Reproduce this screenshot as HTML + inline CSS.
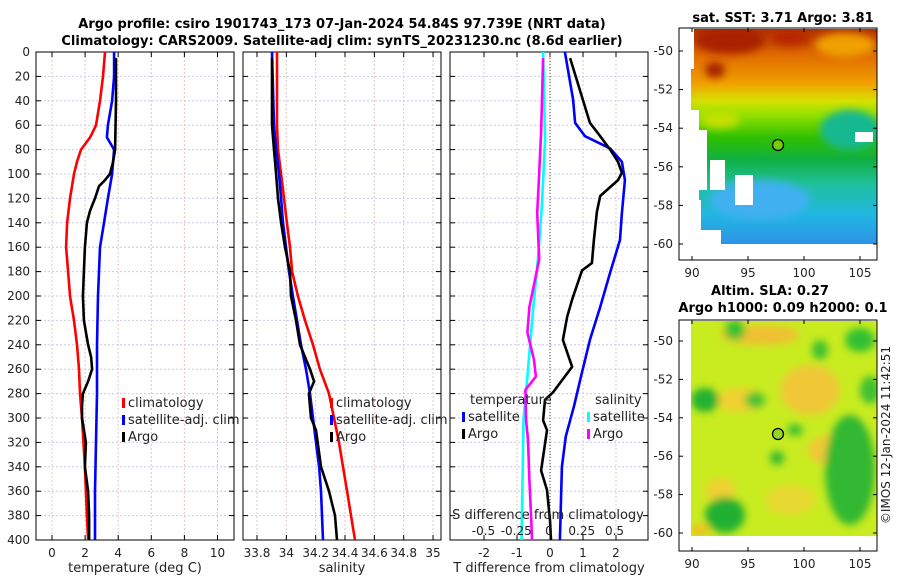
<!DOCTYPE html>
<html><head><meta charset="utf-8"><style>
body{margin:0;background:#fff;}
svg{display:block;font-family:"DejaVu Sans","Liberation Sans",sans-serif;}
</style></head><body>
<svg id="c" width="900" height="580" viewBox="0 0 900 580">
<defs>
<clipPath id="cp1"><rect x="36" y="52" width="198" height="488"/></clipPath>
<clipPath id="cp2"><rect x="243" y="52" width="198" height="488"/></clipPath>
<clipPath id="cp3"><rect x="450" y="52" width="198" height="488"/></clipPath>
<clipPath id="cm1"><rect x="691" y="29" width="186" height="217"/></clipPath>
<clipPath id="cm2"><rect x="691" y="321" width="186" height="215"/></clipPath>
<filter id="bl" x="-50%" y="-50%" width="200%" height="200%"><feGaussianBlur stdDeviation="4"/></filter>
<linearGradient id="sst" x1="0" y1="0" x2="0" y2="1">
<stop offset="0" stop-color="#b03000"/><stop offset="0.12" stop-color="#e06a00"/><stop offset="0.25" stop-color="#f0a000"/>
<stop offset="0.33" stop-color="#d8e000"/><stop offset="0.4" stop-color="#90e000"/><stop offset="0.5" stop-color="#30c000"/>
<stop offset="0.6" stop-color="#10b040"/><stop offset="0.72" stop-color="#20c0a0"/><stop offset="0.85" stop-color="#20b8e0"/><stop offset="1" stop-color="#3090e8"/>
</linearGradient>
</defs>
<text x="342" y="28" font-size="13" font-weight="bold" text-anchor="middle">Argo profile: csiro 1901743_173 07-Jan-2024 54.84S 97.739E (NRT data)</text>
<text x="342" y="45" font-size="13" font-weight="bold" text-anchor="middle">Climatology: CARS2009. Satellite-adj clim: synTS_20231230.nc (8.6d earlier)</text>
<g id="plots"></g>
<!-- map 1 -->
<g>
<text x="783" y="22" font-size="13" font-weight="bold" text-anchor="middle">sat. SST: 3.71 Argo: 3.81</text>
<g clip-path="url(#cm1)">
<rect x="691" y="29" width="186" height="217" fill="url(#sst)"/>
<ellipse cx="730" cy="40" rx="35" ry="14" fill="#a82000" filter="url(#bl)"/>
<ellipse cx="790" cy="38" rx="20" ry="8" fill="#b82800" filter="url(#bl)"/>
<ellipse cx="715" cy="70" rx="10" ry="8" fill="#a82000" filter="url(#bl)"/>
<ellipse cx="845" cy="45" rx="30" ry="12" fill="#f0a000" filter="url(#bl)"/>
<ellipse cx="850" cy="130" rx="30" ry="20" fill="#18b890" filter="url(#bl)"/>
<ellipse cx="760" cy="200" rx="50" ry="20" fill="#40b0f0" filter="url(#bl)"/>
<ellipse cx="720" cy="120" rx="20" ry="8" fill="#c8e000" filter="url(#bl)"/>
<rect x="691" y="110" width="8" height="136" fill="#fff"/>
<rect x="691" y="130" width="16" height="60" fill="#fff"/>
<rect x="710" y="160" width="15" height="30" fill="#fff"/>
<rect x="735" y="175" width="18" height="30" fill="#fff"/>
<rect x="691" y="200" width="10" height="46" fill="#fff"/>
<rect x="691" y="230" width="30" height="16" fill="#fff"/>
<rect x="855" y="132" width="18" height="10" fill="#fff"/>
<rect x="691" y="244" width="186" height="4" fill="#fff"/>
<rect x="691" y="29" width="3" height="40" fill="#fff"/>
</g>
<circle cx="778" cy="145" r="5.5" fill="#70d000" stroke="#000" stroke-width="1.3"/>
<rect x="679" y="28" width="198" height="232" fill="none" stroke="#000"/>
<g id="m1ticks"></g>
</g>
<!-- map 2 -->
<g>
<text x="770" y="295" font-size="13" font-weight="bold" text-anchor="middle">Altim. SLA: 0.27</text>
<text x="783" y="312" font-size="13" font-weight="bold" text-anchor="middle">Argo h1000: 0.09 h2000: 0.1</text>
<g clip-path="url(#cm2)">
<rect x="691" y="321" width="186" height="215" fill="#c8ec20"/>
<g filter="url(#bl)">
<ellipse cx="760" cy="335" rx="40" ry="10" fill="#f0c030"/>
<ellipse cx="810" cy="390" rx="30" ry="25" fill="#f0c838"/>
<ellipse cx="740" cy="400" rx="25" ry="12" fill="#f0d030"/>
<ellipse cx="830" cy="450" rx="22" ry="15" fill="#f0c838"/>
<ellipse cx="720" cy="490" rx="15" ry="12" fill="#f0d030"/>
<ellipse cx="790" cy="500" rx="25" ry="15" fill="#e8d830"/>
<ellipse cx="705" cy="400" rx="14" ry="12" fill="#20b030"/>
<ellipse cx="735" cy="330" rx="10" ry="10" fill="#30c030"/>
<ellipse cx="860" cy="340" rx="15" ry="12" fill="#30c030"/>
<ellipse cx="850" cy="470" rx="25" ry="55" fill="#30b830"/>
<ellipse cx="725" cy="515" rx="20" ry="18" fill="#20b030"/>
<ellipse cx="755" cy="400" rx="10" ry="8" fill="#40c030"/>
<ellipse cx="820" cy="350" rx="8" ry="10" fill="#40c030"/>
<ellipse cx="777" cy="458" rx="7" ry="7" fill="#30b830"/>
<ellipse cx="795" cy="430" rx="8" ry="6" fill="#40c030"/>
<ellipse cx="870" cy="390" rx="10" ry="14" fill="#40c030"/>
<ellipse cx="700" cy="530" rx="10" ry="6" fill="#f0c020"/>
</g>
</g>
<circle cx="778" cy="434" r="5.5" fill="#90d820" stroke="#000" stroke-width="1.3"/>
<rect x="679" y="320" width="198" height="231" fill="none" stroke="#000"/>
<g id="m2ticks"></g>
</g>
<text transform="translate(890,435) rotate(-90)" font-size="12" text-anchor="middle" fill="#222">©IMOS 12-Jan-2024 11:42:51</text>
</svg>
<script>
// ---- data ----
const depthTicks=[0,20,40,60,80,100,120,140,160,180,200,220,240,260,280,300,320,340,360,380,400];
const tTicks=[0,2,4,6,8,10];
const sTicks=[33.8,34,34.2,34.4,34.6,34.8,35];
const sTickLabels=['33.8','34','34.2','34.4','34.6','34.8','35'];
const dTicks=[-2,-1,0,1,2];
const sdTicks=[-0.5,-0.25,0,0.25,0.5];
const sdTickLabels=['-0.5','-0.25','0','0.25','0.5'];
const lonTicks=[90,95,100,105];
const latTicks=[-50,-52,-54,-56,-58,-60];

const climTDepth=[0,20,40,60,70,80,90,100,120,140,160,180,200,220,240,260,280,300,340,380,400];
const climT=[3.2,3.08,2.9,2.66,2.3,1.75,1.51,1.33,1.09,0.91,0.85,0.97,1.09,1.33,1.51,1.63,1.69,1.81,1.99,2.11,2.18];
const satTDepth=[0,20,40,60,70,80,100,120,140,160,180,200,240,280,320,360,400];
const satT=[3.75,3.75,3.63,3.38,3.32,3.75,3.63,3.38,3.14,2.9,2.84,2.78,2.72,2.72,2.66,2.6,2.6];
const argoTDepth=[5,40,80,90,100,105,110,120,130,140,160,180,200,220,240,250,260,270,280,290,300,320,340,360,380,400];
const argoT=[3.87,3.87,3.81,3.69,3.5,3.2,2.84,2.6,2.3,2.11,1.99,1.93,1.87,1.93,2.18,2.36,2.42,2.18,1.87,1.81,1.81,2.05,1.99,2.18,2.24,2.24];

const climSDepth=[0,60,80,100,120,140,160,180,200,220,240,260,280,300,320,340,360,380,400];
const climS=[33.936,33.936,33.943,33.964,33.984,34.004,34.025,34.039,34.079,34.127,34.182,34.229,34.291,34.325,34.359,34.386,34.414,34.441,34.468];
const satSDepth=[0,60,80,100,120,140,160,180,200,220,240,260,280,300,320,340,360,380,400];
const satS=[33.902,33.916,33.930,33.950,33.964,33.977,33.998,34.018,34.045,34.073,34.100,34.134,34.161,34.182,34.202,34.223,34.236,34.243,34.250];
const argoSDepth=[5,60,80,100,120,140,160,180,200,220,240,260,270,280,300,310,340,360,380,400];
const argoS=[33.902,33.902,33.916,33.930,33.943,33.964,33.991,34.025,34.032,34.066,34.093,34.161,34.189,34.154,34.168,34.202,34.236,34.291,34.332,34.345];

const dSatTDepth=[0,39,58,69,79,90,105,132,154,181,209,236,266,290,315,340,400];
const dSatT=[0.45,0.7,0.76,1.06,1.82,2.18,2.27,2.18,2.12,1.82,1.52,1.21,0.94,0.73,0.48,0.36,0.3];
const dArgoTDepth=[5,58,69,80,90,99,105,118,131,154,173,179,203,217,236,258,279,285,302,310,343,359,384,400];
const dArgoT=[0.61,1.21,1.52,1.82,2.06,2.18,2.06,1.52,1.42,1.33,1.27,0.97,0.67,0.52,0.39,0.67,0.09,-0.15,-0.21,-0.09,-0.27,-0.09,0,0.03];
const dSatSDepth=[0,72,127,170,209,266,302,400];
const dSatS=[-0.045,-0.03,-0.055,-0.085,-0.12,-0.165,-0.195,-0.21];
const dArgoSDepth=[5,66,99,132,170,209,230,252,266,277,302,318,351,384,400];
const dArgoS=[-0.045,-0.06,-0.075,-0.09,-0.075,-0.15,-0.165,-0.115,-0.1,-0.18,-0.175,-0.16,-0.15,-0.135,-0.13];

// ---- axes ----
const NS='http://www.w3.org/2000/svg';
const Y0=52,Y1=540;
const yD=d=>Y0+d/400*(Y1-Y0);
const xT=v=>52+v*16.55;
const xS=v=>257+(v-33.8)*146.7;
const xDT=v=>550+v*33;
const xDS=v=>549+v*131;
const xLon=v=>692+(v-90)*11.2;
const yLat1=v=>51+(-50-v)*19.3;
const yLat2=v=>341+(-50-v)*19.2;
const root=document.getElementById('plots');
function el(tag,attrs,parent){const e=document.createElementNS(NS,tag);for(const k in attrs)e.setAttribute(k,attrs[k]);(parent||root).appendChild(e);return e;}
function txt(x,y,s,size,anchor,parent){const t=el('text',{x:x,y:y,'font-size':size,'text-anchor':anchor,fill:'#222'},parent);t.textContent=s;return t;}

function panel(x0,name,ticks,labels,xf){
  const g=el('g',{});
  
  
  depthTicks.forEach(d=>{el('line',{x1:x0,x2:x0+198,y1:yD(d),y2:yD(d),stroke:'#c8cce8','stroke-dasharray':'2,2'},g);});
  ticks.forEach((v,i)=>{const X=xf(v);
    el('line',{x1:X,x2:X,y1:Y0,y2:Y1,stroke:'#e0c8c0','stroke-dasharray':'2,2'},g);
    el('line',{x1:X,x2:X,y1:Y1,y2:Y1-5,stroke:'#000'},g);
    el('line',{x1:X,x2:X,y1:Y0,y2:Y0+5,stroke:'#000'},g);
    if(labels){const t=txt(X,557,labels[i],12,'middle',g);
      
      }
  });
  depthTicks.forEach(d=>{el('line',{x1:x0,x2:x0+5,y1:yD(d),y2:yD(d),stroke:'#000'},g);el('line',{x1:x0+193,x2:x0+198,y1:yD(d),y2:yD(d),stroke:'#000'},g);});
  el('rect',{x:x0,y:Y0,width:198,height:Y1-Y0,fill:'none',stroke:'#000'},g);
  return g;
}
function series(xs,ds,xf,color,name,clip){
  const p=el('polyline',{points:xs.map((v,i)=>xf(v).toFixed(1)+','+yD(ds[i]).toFixed(1)).join(' '),fill:'none',stroke:color,'stroke-width':2.6,'stroke-linejoin':'round','clip-path':'url(#'+clip+')'});
  
  
}
function legend(x,y,color,label,name){
  el('rect',{x:x,y:y-9,width:3,height:10,fill:color});
  const t=txt(x+6,y,label,13,'start');
  
  
}

// panel 1
panel(36,'temperature',tTicks,tTicks.map(String),xT);
depthTicks.forEach(d=>{const t=txt(30,yD(d)+4,String(d),12,'end');
  
  });
series(climT,climTDepth,xT,'#ff0000','climatology-temperature-line','cp1');
series(satT,satTDepth,xT,'#0000ff','satellite-temperature-line','cp1');
series(argoT,argoTDepth,xT,'#000','argo-temperature-line','cp1');
legend(122,407,'#ff0000','climatology','legend-climatology');
legend(122,424,'#0000ff','satellite-adj. clim','legend-satellite-adj');
legend(122,441,'#000','Argo','legend-argo');
let xl=txt(135,572,'temperature (deg C)',13,'middle');



// panel 2
panel(243,'salinity',sTicks,sTickLabels,xS);
series(climS,climSDepth,xS,'#ff0000','climatology-salinity-line','cp2');
series(satS,satSDepth,xS,'#0000ff','satellite-salinity-line','cp2');
series(argoS,argoSDepth,xS,'#000','argo-salinity-line','cp2');
legend(330,407,'#ff0000','climatology','legend-climatology-2');
legend(330,424,'#0000ff','satellite-adj. clim','legend-satellite-adj-2');
legend(330,441,'#000','Argo','legend-argo-2');
xl=txt(342,572,'salinity',13,'middle');



// panel 3
panel(450,'difference',dTicks,dTicks.map(String),xDT);
const zl=el('line',{x1:xDT(0),x2:xDT(0),y1:Y0,y2:Y1,stroke:'#444','stroke-dasharray':'1,2'});


series(dSatS,dSatSDepth,xDS,'#00ffff','satellite-salinity-diff-line','cp3');
series(dArgoS,dArgoSDepth,xDS,'#ff00ff','argo-salinity-diff-line','cp3');
series(dSatT,dSatTDepth,xDT,'#0000ff','satellite-temperature-diff-line','cp3');
series(dArgoT,dArgoTDepth,xDT,'#000','argo-temperature-diff-line','cp3');
let lt=txt(470,404,'temperature',13,'start');
lt=txt(595,404,'salinity',13,'start');
legend(462,421,'#0000ff','satellite','legend-temp-satellite');
legend(462,438,'#000','Argo','legend-temp-argo');
legend(587,421,'#00ffff','satellite','legend-sal-satellite');
legend(587,438,'#ff00ff','Argo','legend-sal-argo');
lt=txt(548,519,'S difference from climatology',13,'middle');
sdTicks.forEach((v,i)=>{const t=txt(xDS(v),535,sdTickLabels[i],12,'middle');
  
  });
xl=txt(549,572,'T difference from climatology',13,'middle');



// map ticks
function mapTicks(gid,top,bot,yf){
  const g=document.getElementById(gid);
  lonTicks.forEach(v=>{const X=xLon(v);
    el('line',{x1:X,x2:X,y1:bot,y2:bot-4,stroke:'#000'},g);
    el('line',{x1:X,x2:X,y1:top,y2:top+4,stroke:'#000'},g);
    const t=txt(X,bot+17,String(v),12,'middle',g);
    
    });
  latTicks.forEach(v=>{const Y=yf(v);
    el('line',{x1:679,x2:683,y1:Y,y2:Y,stroke:'#000'},g);
    el('line',{x1:873,x2:877,y1:Y,y2:Y,stroke:'#000'},g);
    const t=txt(673,Y+4,String(v),12,'end',g);
    
    });
}
mapTicks('m1ticks',28,260,yLat1);
mapTicks('m2ticks',320,551,yLat2);
</script>
</body></html>
